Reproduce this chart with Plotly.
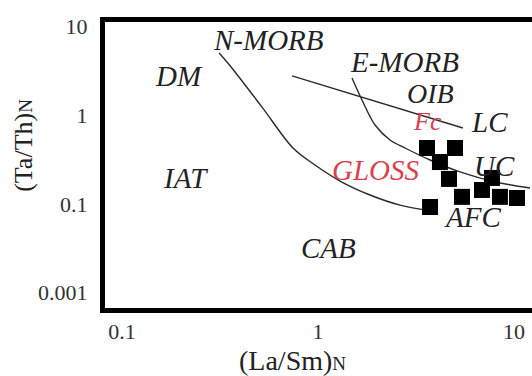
import math
import plotly.graph_objects as go

# ---- data ----
afc_x = [0.313, 0.360, 0.518, 0.745, 0.965, 1.295, 1.842, 2.62, 3.81]
afc_y = [5.00, 3.48, 1.23, 0.426, 0.274, 0.181, 0.126, 0.097, 0.083]

fc_x = [0.737, 5.49]
fc_y = [2.76, 0.716]

emorb_x = [1.491, 1.677, 1.954, 2.33, 2.78, 3.73, 5.30, 8.00, 12.07]
emorb_y = [2.62, 1.479, 0.774, 0.525, 0.426, 0.312, 0.229, 0.177, 0.151]

sample_x = [3.60, 5.00, 4.19, 4.66, 5.43, 3.73, 7.72, 6.87, 8.48, 10.36]
sample_y = [0.426, 0.426, 0.296, 0.191, 0.120, 0.0923, 0.196, 0.1435, 0.120, 0.1165]

label_text = ["N-MORB", "E-MORB", "DM", "OIB", "Fc", "LC", "UC", "GLOSS", "IAT", "AFC", "CAB"]
label_x = [0.556, 2.75, 0.195, 3.73, 3.60, 7.54, 7.91, 1.977, 0.210, 6.11, 1.125]
label_y = [7.01, 3.96, 2.76, 1.73, 0.84, 0.836, 0.267, 0.241, 0.196, 0.0712, 0.0319]
label_size = [29, 29, 29, 28, 26, 29, 29, 29, 29, 29, 29]
label_color = ["#222", "#222", "#222", "#222", "#d9414f", "#222", "#222", "#d9414f", "#222", "#222", "#222"]

x_tickvals = [0.1, 1, 10]
x_ticktext = ["0.1", "1", "10"]
y_tickvals = [10, 1, 0.1, 0.01]
y_ticktext = ["10", "1", "0.1", "0.001"]

x_title = "(La/Sm)<span style='font-size:19px'>N</span>"
y_title = "(Ta/Th)<span style='font-size:19px'>N</span>"

SERIF = "Liberation Serif, Times New Roman, serif"

# ---- figure ----
fig = go.Figure()
line_style = dict(color="#2a2a2a", width=1.4, shape="spline", smoothing=0.9)
fig.add_trace(go.Scatter(x=afc_x, y=afc_y, mode="lines", line=line_style, showlegend=False))
fig.add_trace(go.Scatter(x=fc_x, y=fc_y, mode="lines", line=dict(color="#2a2a2a", width=1.4), showlegend=False))
fig.add_trace(go.Scatter(x=emorb_x, y=emorb_y, mode="lines", line=line_style, showlegend=False))
fig.add_trace(go.Scatter(x=sample_x, y=sample_y, mode="markers",
                         marker=dict(symbol="square", size=16, color="black"), showlegend=False))

# annotations on log axes are placed in log10 units
for t, x, y, s, c in zip(label_text, label_x, label_y, label_size, label_color):
    fig.add_annotation(x=math.log10(x), y=math.log10(y), xref="x", yref="y", text=t, showarrow=False,
                       xanchor="center", yanchor="middle",
                       font=dict(family=SERIF, size=s, color=c, style="italic"))

fig.add_annotation(x=0.438, y=-0.185, xref="paper", yref="paper", text=x_title, showarrow=False,
                   xanchor="center", yanchor="middle",
                   font=dict(family=SERIF, size=28, color="#222"))
fig.add_annotation(x=-0.190, y=0.570, xref="paper", yref="paper", text=y_title, showarrow=False,
                   textangle=-90, xanchor="center", yanchor="middle",
                   font=dict(family=SERIF, size=26, color="#222"))

tick_font = dict(family=SERIF, size=22, color="#333")
fig.update_layout(
    width=532, height=376,
    margin=dict(l=105, r=0, t=22, b=68),
    paper_bgcolor="white", plot_bgcolor="white",
    xaxis=dict(type="log", range=[-1.087, 1.092], showline=True, linewidth=5, linecolor="black",
               mirror=True, showgrid=False, zeroline=False, ticks="",
               tickvals=x_tickvals, ticktext=x_ticktext, tickfont=tick_font, ticklabelstandoff=0),
    yaxis=dict(type="log", range=[-2.172, 1.048], showline=True, linewidth=5, linecolor="black",
               mirror=False, showgrid=False, zeroline=False, ticks="",
               tickvals=y_tickvals, ticktext=y_ticktext, tickfont=tick_font, ticklabelstandoff=8),
)

fig.write_html("out.html")
